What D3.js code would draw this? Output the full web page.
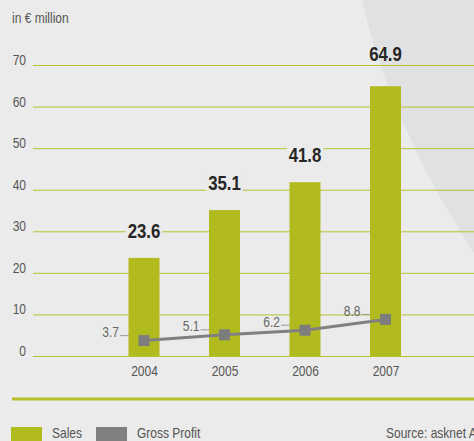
<!DOCTYPE html>
<html>
<head>
<meta charset="utf-8">
<script src="https://cdn.jsdelivr.net/npm/d3@7"></script>
<style>
  html, body { margin: 0; padding: 0; background: #eaebea; overflow: hidden; }
  svg { display: block; }
</style>
</head>
<body>
<script>
// ---- data ----
const years = ["2004", "2005", "2006", "2007"];
const sales = [23.6, 35.1, 41.8, 64.9];
const grossProfit = [3.7, 5.1, 6.2, 8.8];
const yTicks = [0, 10, 20, 30, 40, 50, 60, 70];
const unitLabel = "in € million";
const seriesNames = ["Sales", "Gross Profit"];
const sourceNote = "Source: asknet AG";

// ---- layout / style ----
const W = 474, H = 441;
const BG = "#eaebea";
const OLIVE = "#b2bb1e";
const GRID = "#b9c22e";
const GREY = "#808080";
const FONT = "'Liberation Sans', Arial, sans-serif";
const FS = 15;           // regular text size
const NARROW = 0.8;      // horizontal squeeze giving a condensed face
const NARROW_BOLD = 0.84;

const svg = d3.select("body").append("svg")
  .attr("width", W).attr("height", H)
  .style("font-family", FONT);

svg.append("rect").attr("width", W).attr("height", H).attr("fill", BG);

// soft curved panel on the right-hand side
svg.append("path")
  .attr("d", "M362,0 C378,70 412,160 480,262 L480,0 Z")
  .attr("fill", "#e0e1e3");

const y = d3.scaleLinear().domain([0, 70]).range([356, 65]);
const x = d3.scalePoint().domain(years).range([144, 385.5]);
const barW = 31;

// condense a text element in place
function narrow(sel, k = NARROW) {
  sel.each(function () {
    const w = this.getComputedTextLength();
    d3.select(this)
      .attr("textLength", w * k)
      .attr("lengthAdjust", "spacingAndGlyphs");
  });
}

// unit caption
svg.append("text")
  .attr("x", 12).attr("y", 23)
  .attr("font-size", FS).attr("fill", "#555")
  .text(unitLabel)
  .call(narrow);

// y axis: labels + gridlines
const yAxis = svg.append("g")
  .attr("transform", "translate(33,0)")
  .call(d3.axisLeft(y).tickValues(yTicks).tickSize(-(W - 33)).tickPadding(7));
yAxis.select(".domain").remove();
yAxis.selectAll(".tick line").attr("stroke", GRID).attr("stroke-width", 1);
yAxis.selectAll(".tick text")
  .attr("dy", "-0.5")
  .attr("font-size", FS).attr("fill", "#555")
  .style("font-family", FONT)
  .call(narrow);

// x axis labels
const xAxis = svg.append("g")
  .attr("transform", `translate(0,${y(0)})`)
  .call(d3.axisBottom(x).tickSize(0).tickPadding(9));
xAxis.select(".domain").remove();
xAxis.selectAll(".tick text")
  .attr("font-size", FS).attr("fill", "#555")
  .style("font-family", FONT)
  .call(narrow);

// gross profit leader lines (sit behind the bars)
const leaderLen = 24;
svg.append("g").selectAll("line")
  .data(grossProfit)
  .join("line")
  .attr("x1", (d, i) => x(years[i]) - leaderLen)
  .attr("x2", (d, i) => x(years[i]))
  .attr("y1", d => y(d) - 5)
  .attr("y2", d => y(d) - 5)
  .attr("stroke", "#9a9a9a").attr("stroke-width", 1);

// sales bars
svg.append("g").selectAll("rect")
  .data(sales)
  .join("rect")
  .attr("x", (d, i) => x(years[i]) - barW / 2)
  .attr("width", barW)
  .attr("y", d => y(d))
  .attr("height", d => y(0) - y(d))
  .attr("fill", OLIVE);

// sales value labels; a label that would sit on the top gridline is lifted above it
const topLine = y(yTicks[yTicks.length - 1]);
const labelY = d => {
  const b = y(d) - 20;
  return (b > topLine - 4 && b < topLine + 16) ? topLine - 4 : b;
};
const valG = svg.append("g");
sales.forEach((v, i) => {
  const by = labelY(v);
  const t = valG.append("text")
    .attr("x", x(years[i])).attr("y", by)
    .attr("text-anchor", "middle")
    .attr("font-size", 20).attr("font-weight", "bold")
    .attr("fill", "#262626")
    .text(v.toFixed(1));
  const w = t.node().getComputedTextLength() * NARROW_BOLD;
  t.call(narrow, NARROW_BOLD);
  const top = by - 16, bottom = by + 2;
  const crosses = yTicks.some(tk => y(tk) >= top && y(tk) <= bottom);
  if (crosses) {
    valG.insert("rect", "text")
      .attr("x", x(years[i]) - w / 2 - 2).attr("width", w + 4)
      .attr("y", top).attr("height", bottom - top)
      .attr("fill", BG);
  }
});

// gross profit line and markers
const line = d3.line()
  .x((d, i) => x(years[i]))
  .y(d => y(d));
svg.append("path")
  .datum(grossProfit)
  .attr("d", line)
  .attr("fill", "none")
  .attr("stroke", GREY).attr("stroke-width", 3);

const mk = 11;
svg.append("g").selectAll("rect")
  .data(grossProfit)
  .join("rect")
  .attr("x", (d, i) => x(years[i]) - mk / 2)
  .attr("y", d => y(d) - mk / 2)
  .attr("width", mk).attr("height", mk)
  .attr("fill", "#7d7d7d");

svg.append("g").selectAll("text")
  .data(grossProfit)
  .join("text")
  .attr("x", (d, i) => x(years[i]) - leaderLen - 1)
  .attr("y", d => y(d) - 3.5)
  .attr("text-anchor", "end")
  .attr("font-size", FS).attr("fill", "#666")
  .text(d => d.toFixed(1))
  .call(narrow);

// separator above the legend
svg.append("line")
  .attr("x1", 12).attr("x2", W)
  .attr("y1", 399).attr("y2", 399)
  .attr("stroke", "#b7bf28").attr("stroke-width", 3);

// legend
const legendColors = [OLIVE, GREY];
const legX = [11, 96];
seriesNames.forEach((name, i) => {
  svg.append("rect")
    .attr("x", legX[i]).attr("y", 427)
    .attr("width", 31).attr("height", 14)
    .attr("fill", legendColors[i]);
  svg.append("text")
    .attr("x", legX[i] + 41).attr("y", 438)
    .attr("font-size", FS).attr("fill", "#555")
    .text(name)
    .call(narrow);
});

svg.append("text")
  .attr("x", 386).attr("y", 438)
  .attr("font-size", FS).attr("fill", "#555")
  .text(sourceNote)
  .call(narrow);
</script>
</body>
</html>
